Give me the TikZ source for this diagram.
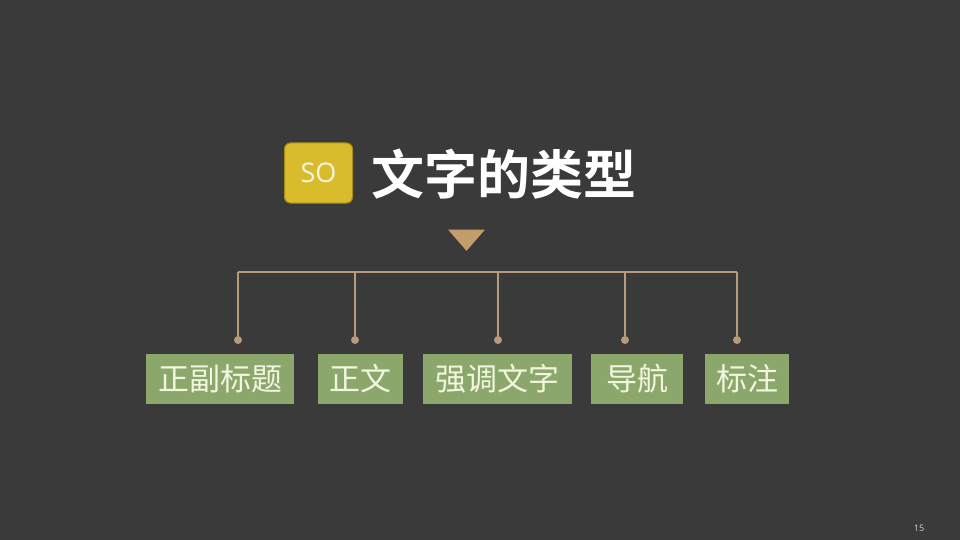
\documentclass[tikz,border=0pt]{standalone}
\usepackage{fontspec}
\usepackage{xcolor}
\usepackage{tikz}
\usetikzlibrary{positioning,shapes.geometric}
\newfontfamily\cjk{Noto Sans CJK SC}
\newfontfamily\cjkbold{Noto Sans CJK SC Bold}
\setsansfont{Open Sans}
\definecolor{sbg}{HTML}{3A3A3A}
\definecolor{sgold}{HTML}{D9BC2C}
\definecolor{sgoldrim}{HTML}{A88A18}
\definecolor{stan}{HTML}{C49E6A}
\definecolor{sline}{HTML}{B89A7C}
\definecolor{sgreen}{HTML}{8BA76B}
\definecolor{scream}{HTML}{F1F6DE}

\begin{document}
\begin{tikzpicture}[
    x=1pt, y=-1pt,
    badge/.style={rectangle, draw=sgoldrim, line width=1pt, fill=sgold, rounded corners=6pt, minimum width=68pt, minimum height=60pt, inner sep=0pt, font=\sffamily\fontsize{27}{27}\selectfont, text=scream},
    kind/.style={rectangle, fill=sgreen, minimum height=50pt, inner sep=0pt, font=\cjk\fontsize{31}{31}\selectfont, text=scream},
    tick/.style={circle, fill=sline, minimum size=8pt, inner sep=0pt},
    wire/.style={draw=sline, line width=1.6pt}
]
    % Background
    \fill[sbg] (0,0) rectangle (960,540);
    \useasboundingbox (0,0) rectangle (960,540);

    % Title
    \node[badge] (so) at (318.5,173) {SO};
    \node[font=\cjkbold\fontsize{53}{53}\selectfont, text=white, anchor=west, inner sep=0pt] (title) at (371,174) {文字的类型};
    \node[isosceles triangle, isosceles triangle apex angle=82, shape border rotate=-90, fill=stan, inner sep=0pt, minimum height=21pt, minimum width=37pt] (arrow) at (466.5,238) {};

    % Bar
    \coordinate (barl) at (238,272);
    \coordinate (barr) at (737,272);
    \draw[wire] (barl) -- (barr);

    % Ticks
    \foreach \name/\xx in {ta/238, tb/355, tc/498, td/625, te/737} {
        \coordinate (\name top) at (\xx,272);
        \node[tick] (\name) at (\xx,340) {};
        \draw[wire] (\name top) -- (\name);
    }

    % Boxes
    \node[kind, minimum width=148pt] (k1) at (220,378.5) {正副标题};
    \node[kind, minimum width=85pt] (k2) at (360.5,378.5) {正文};
    \node[kind, minimum width=149pt] (k3) at (497.5,378.5) {强调文字};
    \node[kind, minimum width=92pt] (k4) at (637,378.5) {导航};
    \node[kind, minimum width=84pt] (k5) at (747,378.5) {标注};

    % Page number
    \node[font=\sffamily\fontsize{9}{9}\selectfont, text=scream!85!sbg] (page) at (919,528) {15};
\end{tikzpicture}
\end{document}
